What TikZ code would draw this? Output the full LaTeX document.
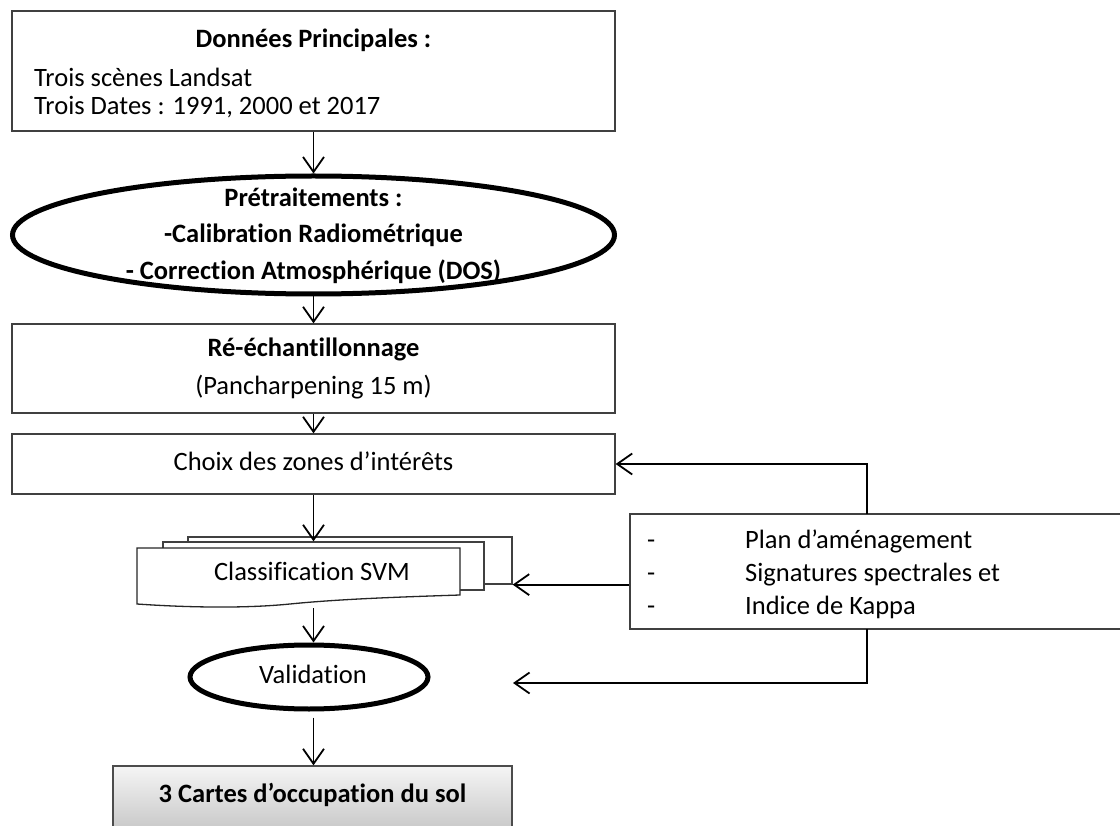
\documentclass[tikz,border=0pt]{standalone}
\usepackage{fontspec}
\setmainfont{Carlito}[Ligatures=NoCommon]
\usetikzlibrary{arrows.meta,shapes.geometric,calc}
\begin{document}
\begin{tikzpicture}[x=1pt,y=-1pt,
  box/.style={draw=black!75, line width=1.3pt, fill=white, inner sep=0pt},
  oval/.style={ellipse, draw=black, line width=5pt, inner sep=0pt},
  arr/.style={draw=black, line width=1.8pt,
    -{Straight Barb[length=15pt,width=21pt,line width=1.8pt]}},
  txt/.style={anchor=base, inner sep=0pt, font=\fontsize{26.5}{32}\selectfont},
  btxt/.style={txt, font=\fontsize{26.5}{32}\selectfont\bfseries},
  ltxt/.style={txt, anchor=base west}]
\useasboundingbox (0,0) rectangle (1120,826);

% --- input data
\node[box, minimum width=603pt, minimum height=120pt] (donnees) at (313.5,71) {};
\node[btxt] (donneesT) at (313.5,48) {Données Principales :};
\node[ltxt] (donneesL1) at (34,87) {Trois scènes Landsat};
\node[ltxt] (donneesL2) at (34,115) {Trois Dates : 1991, 2000 et 2017};

% --- preprocessing
\node[oval, minimum width=602pt, minimum height=118pt] (pre) at (313.5,235) {};
\node[btxt] (preT) at (313.5,207) {Prétraitements :};
\node[btxt] (preL1) at (313.5,243) {-Calibration Radiométrique};
\node[btxt] (preL2) at (313.5,280) {- Correction Atmosphérique (DOS)};

% --- resampling
\node[box, minimum width=603pt, minimum height=89pt] (reech) at (313.5,368.5) {};
\node[btxt] (reechT) at (313.5,357) {Ré-échantillonnage};
\node[txt] (reechL) at (313.5,395) {(Pancharpening 15 m)};

% --- areas of interest
\node[box, minimum width=603pt, minimum height=60pt] (choix) at (313.5,464) {};
\node[txt] (choixT) at (313.5,470) {Choix des zones d’intérêts};

% --- SVM classification (stacked documents)
\node[box, minimum width=324pt, minimum height=47pt] (svmA) at (350,560.5) {};
\node[box, minimum width=321pt, minimum height=48pt] (svmB) at (323.5,566) {};
\draw[draw=black!85, line width=1.3pt, fill=white]
  (137,548) -- (460,548) -- (460,595)
  .. controls (400,597) and (340,599) .. (290,604)
  .. controls (240,609) and (180,607) .. (137,604) -- cycle;
\node[txt] (svm) at (312,580) {Classification SVM};

% --- validation
\node[oval, minimum width=238pt, minimum height=64pt] (val) at (309,677) {};
\node[txt] (valT) at (313,683) {Validation};

% --- result
\node[box, draw=black!70, top color=black!4, bottom color=black!27,
  minimum width=399pt, minimum height=84pt] (result) at (312.5,808) {};
\node[btxt] (resultT) at (312.5,802) {3 Cartes d’occupation du sol};

% --- auxiliary data
\node[box, minimum width=505pt, minimum height=115pt] (info) at (882.5,571.5) {};
\node[ltxt] (infoD1) at (647,548) {-};
\node[ltxt] (infoD2) at (647,581) {-};
\node[ltxt] (infoD3) at (647,614) {-};
\node[ltxt] (infoL1) at (745,548) {Plan d’aménagement};
\node[ltxt] (infoL2) at (745,581) {Signatures spectrales et};
\node[ltxt] (infoL3) at (745,614) {Indice de Kappa};

% --- connectors
\coordinate (infoUp) at (867,514);
\coordinate (infoDn) at (867,629);
\coordinate (valIn) at (513,683);
\coordinate (svmOut) at (313.5,608);

\draw[arr] (donnees.south) -- (pre.north);
\draw[arr] (pre.south) -- (reech.north);
\draw[arr] (reech.south) -- (choix.north);
\draw[arr] (choix.south) -- (choix.south |- svmB.north);
\draw[arr] (svmOut) -- (svmOut |- val.north);
\draw[arr, shorten <=6pt] (val.south -| svmOut) -- (svmOut |- result.north);

\draw[arr] (infoUp) |- (choix.east);
\draw[arr] (info.west |- svmA.south east) -- (svmA.south east);
\draw[arr] (infoDn) |- (valIn);
\end{tikzpicture}
\end{document}
